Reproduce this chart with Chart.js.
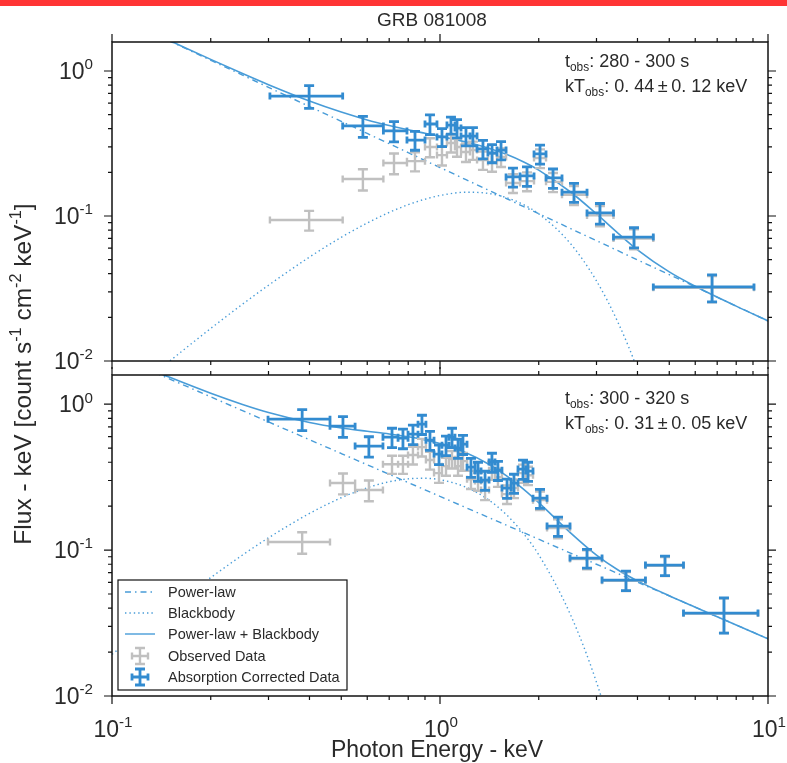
<!DOCTYPE html>
<html>
<head>
<meta charset="utf-8">
<title>GRB 081008</title>
<script src="https://cdn.jsdelivr.net/npm/chart.js@4.4.1/dist/chart.umd.min.js"></script>
<style>
html,body{margin:0;padding:0;background:#ffffff;}
#wrap{position:relative;width:787px;height:763px;overflow:hidden;background:#ffffff;}
#wrap canvas{position:absolute;left:0;top:0;}
</style>
</head>
<body>
<div id="wrap">
<canvas id="topPanel" width="787" height="763"></canvas>
<canvas id="bottomPanel" width="787" height="763"></canvas>
</div>
<script>
// ---------------- DATA ----------------
const chartTitle = 'GRB 081008';
const xAxisTitle = 'Photon Energy - keV';
const xTickExponents = [-1, 0, 1];
const yTickExponents = [-2, -1, 0];
const xMin = 0.1, xMax = 10, yMin = 0.01, yMax = 1.585;

const topTimeRange = ': 280 - 300 s';
const topTemperature = ': 0. 44\u2009\u00b1\u20090. 12 keV';
const bottomTimeRange = ': 300 - 320 s';
const bottomTemperature = ': 0. 31\u2009\u00b1\u20090. 05 keV';

const legendLabels = ['Power-law', 'Blackbody', 'Power-law + Blackbody', 'Observed Data', 'Absorption Corrected Data'];

// Top panel (280 - 300 s) spectral bins
const topEnergy   = [0.399, 0.582, 0.724, 0.839, 0.932, 1.014, 1.080, 1.127, 1.200, 1.260, 1.352, 1.441, 1.535, 1.669, 1.842, 2.018, 2.211, 2.562, 3.074, 3.904, 6.752];
const topEnergyLo = [0.303, 0.505, 0.672, 0.793, 0.900, 0.979, 1.050, 1.111, 1.159, 1.234, 1.297, 1.400, 1.492, 1.590, 1.754, 1.935, 2.105, 2.355, 2.807, 3.380, 4.470];
const topEnergyHi = [0.505, 0.672, 0.793, 0.900, 0.979, 1.050, 1.111, 1.159, 1.234, 1.297, 1.400, 1.492, 1.590, 1.754, 1.935, 2.105, 2.355, 2.807, 3.380, 4.470, 9.063];
const topCorrected    = [0.672, 0.418, 0.386, 0.334, 0.431, 0.351, 0.424, 0.404, 0.356, 0.356, 0.290, 0.272, 0.285, 0.186, 0.189, 0.268, 0.183, 0.146, 0.105, 0.0716, 0.0324];
const topCorrectedErr = [0.120, 0.069, 0.062, 0.050, 0.067, 0.050, 0.057, 0.058, 0.051, 0.051, 0.042, 0.039, 0.041, 0.028, 0.029, 0.040, 0.028, 0.022, 0.017, 0.0114, 0.0068];
const topObserved     = [0.0939, 0.180, 0.232, 0.239, 0.299, 0.263, 0.319, 0.299, 0.276, 0.285, 0.243, 0.236, 0.255, 0.169, 0.174, 0.251, 0.172, 0.140, 0.101, 0.0700, 0.0320];
const topObservedErr  = [0.0146, 0.030, 0.038, 0.036, 0.045, 0.040, 0.045, 0.043, 0.040, 0.041, 0.035, 0.034, 0.037, 0.025, 0.026, 0.037, 0.026, 0.021, 0.016, 0.011, 0.0066];

// Bottom panel (300 - 320 s) spectral bins
const botEnergy   = [0.380, 0.506, 0.607, 0.714, 0.771, 0.827, 0.881, 0.932, 0.993, 1.043, 1.088, 1.135, 1.175, 1.243, 1.306, 1.372, 1.440, 1.502, 1.601, 1.681, 1.791, 1.855, 2.018, 2.290, 2.807, 3.690, 4.853, 7.341];
const botEnergyLo = [0.299, 0.462, 0.551, 0.670, 0.745, 0.799, 0.857, 0.906, 0.959, 1.014, 1.065, 1.111, 1.159, 1.209, 1.278, 1.334, 1.411, 1.471, 1.545, 1.646, 1.729, 1.829, 1.921, 2.120, 2.491, 3.119, 4.230, 5.525];
const botEnergyHi = [0.462, 0.551, 0.670, 0.745, 0.799, 0.857, 0.906, 0.959, 1.014, 1.065, 1.111, 1.159, 1.209, 1.278, 1.334, 1.411, 1.471, 1.545, 1.646, 1.729, 1.829, 1.921, 2.120, 2.491, 3.119, 4.230, 5.525, 9.322];
const botCorrected    = [0.789, 0.707, 0.516, 0.594, 0.585, 0.623, 0.730, 0.567, 0.455, 0.524, 0.594, 0.500, 0.532, 0.370, 0.348, 0.302, 0.401, 0.353, 0.266, 0.288, 0.359, 0.348, 0.227, 0.146, 0.0882, 0.0623, 0.0789, 0.0370];
const botCorrectedErr = [0.130, 0.115, 0.082, 0.090, 0.090, 0.095, 0.110, 0.085, 0.070, 0.080, 0.090, 0.075, 0.080, 0.055, 0.052, 0.045, 0.060, 0.053, 0.040, 0.043, 0.054, 0.052, 0.034, 0.022, 0.013, 0.0095, 0.012, 0.010];
const botObserved     = [0.1135, 0.288, 0.258, 0.388, 0.388, 0.448, 0.508, 0.414, 0.337, 0.376, 0.420, 0.376, 0.407, 0.306, 0.297, 0.258, 0.353, 0.316, 0.242, 0.266, 0.337, 0.326, 0.220, 0.1415, 0.0868, 0.0616, 0.0780, 0.0368];
const botObservedErr  = [0.019, 0.047, 0.042, 0.055, 0.055, 0.062, 0.070, 0.058, 0.048, 0.053, 0.058, 0.053, 0.057, 0.044, 0.042, 0.038, 0.050, 0.045, 0.035, 0.039, 0.048, 0.047, 0.032, 0.021, 0.013, 0.0092, 0.0117, 0.0098];

// Model curves
const modelEnergy = [0.1, 0.12, 0.15, 0.2, 0.25, 0.3, 0.4, 0.5, 0.6, 0.7, 0.8, 0.9, 1.0, 1.2, 1.4, 1.6, 1.8, 2.0, 2.5, 3.0, 3.5, 4.0, 5.0, 6.0, 8.0, 10.0];
const bbEnergy    = [0.1, 0.12, 0.15, 0.2, 0.25, 0.3, 0.4, 0.5, 0.6, 0.7, 0.8, 0.9, 1.0, 1.2, 1.4, 1.6, 1.8, 2.0, 2.5, 3.0, 3.5, 4.0, 5.0];

const topPowerLaw = [2.47, 2.035, 1.608, 1.186, 0.9365, 0.772, 0.569, 0.450, 0.371, 0.315, 0.2735, 0.2415, 0.216, 0.1781, 0.1513, 0.1314, 0.1160, 0.1038, 0.0819, 0.0676, 0.0574, 0.0498, 0.0394, 0.0325, 0.0239, 0.0189];
const topBlackbody = [0.00473, 0.00665, 0.0100, 0.01677, 0.02464, 0.03331, 0.05208, 0.07126, 0.08951, 0.10584, 0.11965, 0.13057, 0.13852, 0.14583, 0.14332, 0.13365, 0.11961, 0.10352, 0.06445, 0.03565, 0.01815, 0.0087, 0.00176];
const topTotal = [2.475, 2.042, 1.62, 1.203, 0.961, 0.805, 0.621, 0.521, 0.460, 0.421, 0.393, 0.372, 0.3545, 0.324, 0.2946, 0.2651, 0.2356, 0.2073, 0.1464, 0.1033, 0.0756, 0.0585, 0.0412, 0.0328, 0.0239, 0.0189];

const botPowerLaw = [2.209, 1.849, 1.487, 1.123, 0.903, 0.756, 0.571, 0.459, 0.3843, 0.3307, 0.2903, 0.2588, 0.2335, 0.1954, 0.1681, 0.1476, 0.1316, 0.1187, 0.0954, 0.0800, 0.0688, 0.0603, 0.0485, 0.0406, 0.0307, 0.02468];
const botBlackbody = [0.0193, 0.0268, 0.0398, 0.0648, 0.0925, 0.1214, 0.1783, 0.2284, 0.2675, 0.2939, 0.3079, 0.3105, 0.3036, 0.2699, 0.2226, 0.1735, 0.1292, 0.0929, 0.0360, 0.01243, 0.0039, 0.00117, 0.000091];
const botTotal = [2.228, 1.876, 1.527, 1.188, 0.996, 0.877, 0.749, 0.687, 0.652, 0.625, 0.598, 0.569, 0.537, 0.465, 0.391, 0.321, 0.261, 0.2116, 0.1314, 0.0924, 0.0727, 0.0615, 0.0486, 0.0406, 0.0307, 0.02468];

// ---------------- STYLE ----------------
const FONT = '"Liberation Sans", Arial, Helvetica, sans-serif';
const TEXT = '#2a2a2a';
const DATA_BLUE = 'rgb(50,139,208)';
const LINE_BLUE = 'rgb(72,156,216)';
const GREY = 'rgb(192,192,192)';
const PL_DASH = [6, 4, 1.5, 4];
const BB_DASH = [1.4, 3];

function setFont(ctx, size) { ctx.font = size + 'px ' + FONT; }
function partSize(p, size) { return (p.sup || p.sub) ? size * 0.66 : size; }
function richWidth(ctx, parts, size) {
  let w = 0;
  for (const p of parts) { setFont(ctx, partSize(p, size)); w += ctx.measureText(p.t).width; }
  return w;
}
function drawRich(ctx, parts, x, y, size, align) {
  const w = richWidth(ctx, parts, size);
  let cx = align === 'right' ? x - w : (align === 'center' ? x - w / 2 : x);
  ctx.textAlign = 'left';
  ctx.textBaseline = 'alphabetic';
  for (const p of parts) {
    const s = partSize(p, size);
    setFont(ctx, s);
    const dy = p.sup ? -size * 0.42 : (p.sub ? size * 0.2 : 0);
    ctx.fillText(p.t, cx, y + dy);
    cx += ctx.measureText(p.t).width;
  }
}

function pts(xs, ys) { return xs.map((x, i) => ({ x: x, y: ys[i] })); }
function bars(e, lo, hi, f, err) {
  return e.map((x, i) => ({ x: x, y: f[i], xLo: lo[i], xHi: hi[i], yLo: f[i] - err[i], yHi: f[i] + err[i] }));
}

function crossPath(ctx, xc, xl, xh, yc, yt, yb) {
  ctx.moveTo(xl, yc); ctx.lineTo(xh, yc);
  ctx.moveTo(xc, yt); ctx.lineTo(xc, yb);
  ctx.moveTo(xl, yc - 3.5); ctx.lineTo(xl, yc + 3.5);
  ctx.moveTo(xh, yc - 3.5); ctx.lineTo(xh, yc + 3.5);
  ctx.moveTo(xc - 5, yt); ctx.lineTo(xc + 5, yt);
  ctx.moveTo(xc - 5, yb); ctx.lineTo(xc + 5, yb);
}

const errorBarPlugin = {
  id: 'errorBars',
  afterDatasetsDraw(chart) {
    const { ctx, chartArea: a, scales: { x, y } } = chart;
    ctx.save();
    ctx.beginPath(); ctx.rect(a.left, a.top, a.right - a.left, a.bottom - a.top); ctx.clip();
    chart.data.datasets.forEach((ds) => {
      if (!ds.errorColor) return;
      ctx.strokeStyle = ds.errorColor;
      ctx.lineWidth = ds.errorWidth;
      ctx.lineCap = 'butt';
      ctx.beginPath();
      ds.data.forEach((p) => {
        crossPath(ctx, x.getPixelForValue(p.x), x.getPixelForValue(p.xLo), x.getPixelForValue(p.xHi),
          y.getPixelForValue(p.y), y.getPixelForValue(p.yHi), y.getPixelForValue(p.yLo));
      });
      ctx.stroke();
    });
    ctx.restore();
  }
};

function drawFrameAndTicks(chart) {
  const { ctx, chartArea: a, scales: { x, y } } = chart;
  ctx.save();
  ctx.strokeStyle = '#111';
  ctx.lineWidth = 1.5;
  ctx.strokeRect(a.left, a.top, a.right - a.left, a.bottom - a.top);
  ctx.lineWidth = 1.2;
  ctx.beginPath();
  for (let e = -1; e <= 1; e++) {
    for (let m = 1; m <= 9; m++) {
      const v = m * Math.pow(10, e);
      if (v < xMin * 0.999 || v > xMax * 1.001) continue;
      const px = x.getPixelForValue(v);
      const L = m === 1 ? 8 : 4;
      ctx.moveTo(px, a.bottom); ctx.lineTo(px, a.bottom + L);
      ctx.moveTo(px, a.top); ctx.lineTo(px, a.top - L);
    }
  }
  for (let e = -2; e <= 0; e++) {
    for (let m = 1; m <= 9; m++) {
      const v = m * Math.pow(10, e);
      if (v < yMin * 0.999 || v > yMax) continue;
      const py = y.getPixelForValue(v);
      const L = m === 1 ? 8 : 4;
      ctx.moveTo(a.left, py); ctx.lineTo(a.left - L, py);
      ctx.moveTo(a.right, py); ctx.lineTo(a.right + L, py);
    }
  }
  ctx.stroke();
  ctx.fillStyle = TEXT;
  yTickExponents.forEach((e) => {
    const py = y.getPixelForValue(Math.pow(10, e));
    drawRich(ctx, [{ t: '10' }, { t: String(e), sup: true }], 93, py + 8, 23, 'right');
  });
  ctx.restore();
}

function drawAnnotation(ctx, timeText, tempText, yTop) {
  ctx.fillStyle = TEXT;
  drawRich(ctx, [{ t: 't' }, { t: 'obs', sub: true }, { t: timeText }], 565, yTop, 18, 'left');
  drawRich(ctx, [{ t: 'kT' }, { t: 'obs', sub: true }, { t: tempText }], 565, yTop + 25, 18, 'left');
}

const topDecor = {
  id: 'topDecor',
  afterDraw(chart) {
    const ctx = chart.ctx;
    ctx.save();
    ctx.fillStyle = '#ff3434';
    ctx.fillRect(0, 0, 787, 6);
    ctx.restore();
    drawFrameAndTicks(chart);
    ctx.save();
    ctx.fillStyle = TEXT;
    drawRich(ctx, [{ t: chartTitle }], 432, 26, 19, 'center');
    drawAnnotation(ctx, topTimeRange, topTemperature, 67);
    // shared y-axis title
    ctx.translate(31, 374);
    ctx.rotate(-Math.PI / 2);
    drawRich(ctx, [{ t: 'Flux - keV [count s' }, { t: '-1', sup: true }, { t: ' cm' }, { t: '-2', sup: true }, { t: ' keV' }, { t: '-1', sup: true }, { t: ']' }], 0, 0, 24.5, 'center');
    ctx.restore();
  }
};

function drawLegend(ctx) {
  const L = 118, T = 580, W = 229, H = 110;
  ctx.save();
  ctx.fillStyle = '#ffffff';
  ctx.fillRect(L, T, W, H);
  ctx.strokeStyle = '#111';
  ctx.lineWidth = 1.2;
  ctx.strokeRect(L, T, W, H);
  const rows = [592, 613, 634, 656, 677];
  const dashes = [PL_DASH, BB_DASH, []];
  ctx.strokeStyle = LINE_BLUE;
  ctx.lineWidth = 1.4;
  for (let i = 0; i < 3; i++) {
    ctx.setLineDash(dashes[i]);
    ctx.beginPath(); ctx.moveTo(125, rows[i]); ctx.lineTo(155, rows[i]); ctx.stroke();
  }
  ctx.setLineDash([]);
  [[GREY, 2.4], [DATA_BLUE, 2.8]].forEach((c, k) => {
    const yc = rows[3 + k];
    ctx.strokeStyle = c[0]; ctx.lineWidth = c[1];
    ctx.beginPath();
    crossPath(ctx, 140, 132, 148, yc, yc - 8, yc + 8);
    ctx.stroke();
  });
  ctx.fillStyle = TEXT;
  legendLabels.forEach((lab, i) => drawRich(ctx, [{ t: lab }], 168, rows[i] + 5, 14.5, 'left'));
  ctx.restore();
}

const bottomDecor = {
  id: 'bottomDecor',
  afterDraw(chart) {
    const { ctx, scales: { x } } = chart;
    drawFrameAndTicks(chart);
    ctx.save();
    ctx.fillStyle = TEXT;
    xTickExponents.forEach((e) => {
      const px = x.getPixelForValue(Math.pow(10, e));
      drawRich(ctx, [{ t: '10' }, { t: String(e), sup: true }], px + 1, 737, 23, 'center');
    });
    drawRich(ctx, [{ t: xAxisTitle }], 437, 757, 23, 'center');
    drawAnnotation(ctx, bottomTimeRange, bottomTemperature, 404);
    ctx.restore();
    drawLegend(ctx);
  }
};

function makePanel(canvasId, top, bottom, pl, bb, total, obsData, corrData, decor) {
  return new Chart(document.getElementById(canvasId), {
    type: 'scatter',
    data: {
      datasets: [
        { label: legendLabels[0], data: pts(modelEnergy, pl), showLine: true, borderColor: LINE_BLUE, borderWidth: 1.4, borderDash: PL_DASH, pointRadius: 0, cubicInterpolationMode: 'monotone', capBezierPoints: false },
        { label: legendLabels[1], data: pts(bbEnergy, bb), showLine: true, borderColor: LINE_BLUE, borderWidth: 1.4, borderDash: BB_DASH, pointRadius: 0, cubicInterpolationMode: 'monotone', capBezierPoints: false },
        { label: legendLabels[2], data: pts(modelEnergy, total), showLine: true, borderColor: LINE_BLUE, borderWidth: 1.6, pointRadius: 0, cubicInterpolationMode: 'monotone', capBezierPoints: false },
        { label: legendLabels[3], data: obsData, showLine: false, pointRadius: 0, errorColor: GREY, errorWidth: 2.4 },
        { label: legendLabels[4], data: corrData, showLine: false, pointRadius: 0, errorColor: DATA_BLUE, errorWidth: 2.8 }
      ]
    },
    options: {
      responsive: false,
      animation: false,
      devicePixelRatio: 1,
      events: [],
      layout: { padding: { left: 112, right: 19, top: top, bottom: 763 - bottom } },
      scales: {
        x: { type: 'logarithmic', min: xMin, max: xMax, display: false },
        y: { type: 'logarithmic', min: yMin, max: yMax, display: false }
      },
      plugins: { legend: { display: false }, tooltip: { enabled: false }, title: { display: false } }
    },
    plugins: [errorBarPlugin, decor]
  });
}

makePanel('topPanel', 42, 361, topPowerLaw, topBlackbody, topTotal,
  bars(topEnergy, topEnergyLo, topEnergyHi, topObserved, topObservedErr),
  bars(topEnergy, topEnergyLo, topEnergyHi, topCorrected, topCorrectedErr), topDecor);
makePanel('bottomPanel', 375, 696, botPowerLaw, botBlackbody, botTotal,
  bars(botEnergy, botEnergyLo, botEnergyHi, botObserved, botObservedErr),
  bars(botEnergy, botEnergyLo, botEnergyHi, botCorrected, botCorrectedErr), bottomDecor);
</script>
</body>
</html>
